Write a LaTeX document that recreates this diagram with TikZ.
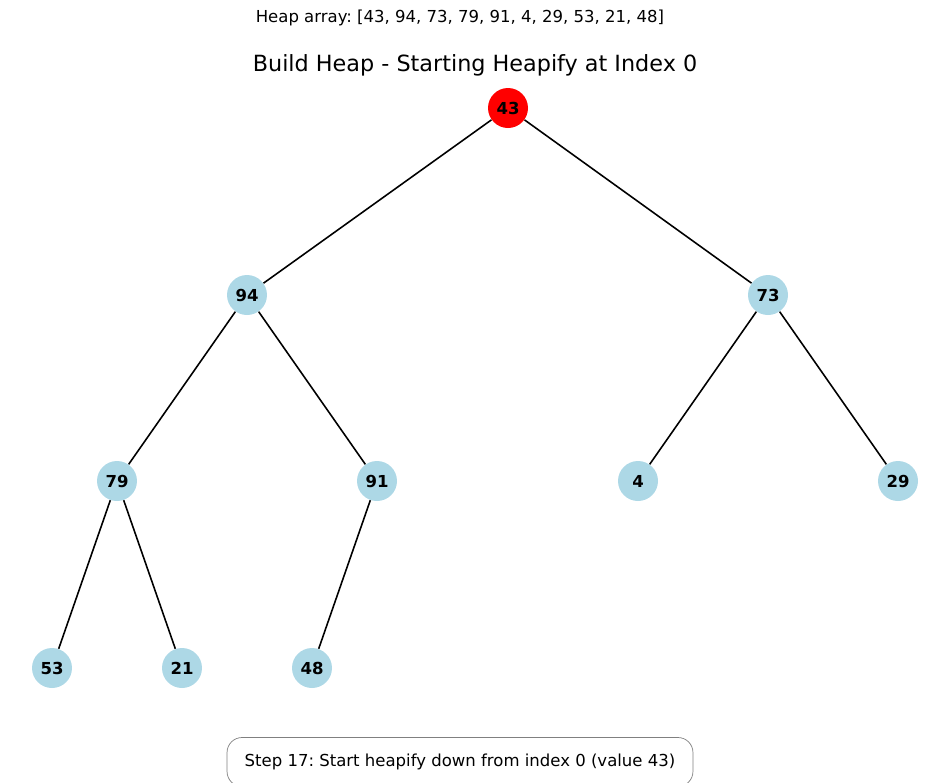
\documentclass[tikz,border=0pt]{standalone}
\usepackage{fontspec}
\setmainfont{DejaVu Sans}
\usepackage{tikz}
\frenchspacing
\definecolor{heapblue}{RGB}{173,216,230}
\tikzset{
  heapnode/.style={circle,fill=heapblue,minimum size=0.8cm,inner sep=0pt,font=\fontsize{9.4}{11}\selectfont\bfseries},
  heapedge/.style={black,line width=0.9pt}
}
\begin{document}
\begin{tikzpicture}[x=0.02cm,y=-0.02cm]
  \useasboundingbox (0,0) rectangle (950,782);
  \node[font=\fontsize{9.4}{11}\selectfont](arr)at(460,18){Heap array: [43, 94, 73, 79, 91, 4, 29, 53, 21, 48]};
  \node[font=\fontsize{12.7}{15}\selectfont](title)at(475,65){Build Heap - Starting Heapify at Index 0};
  % tree nodes
  \node[heapnode,fill=red](n0)at(508,108){43};
  \node[heapnode](n1)at(247,295){94};
  \node[heapnode](n2)at(768,295){73};
  \node[heapnode](n3)at(117,481){79};
  \node[heapnode](n4)at(377,481){91};
  \node[heapnode](n5)at(638,481){4};
  \node[heapnode](n6)at(898,481){29};
  \node[heapnode](n7)at(52,668){53};
  \node[heapnode](n8)at(182,668){21};
  \node[heapnode](n9)at(312,668){48};
  \foreach \a/\b in {n0/n1,n0/n2,n1/n3,n1/n4,n2/n5,n2/n6,n3/n7,n3/n8,n4/n9}
    \draw[heapedge](\a)--(\b);
  \node[draw=black!50,rounded corners=0.3cm,minimum width=9.32cm,minimum height=0.98cm,font=\fontsize{9.4}{11}\selectfont](step)at(460,762){Step 17: Start heapify down from index 0 (value 43)};
\end{tikzpicture}
\end{document}
